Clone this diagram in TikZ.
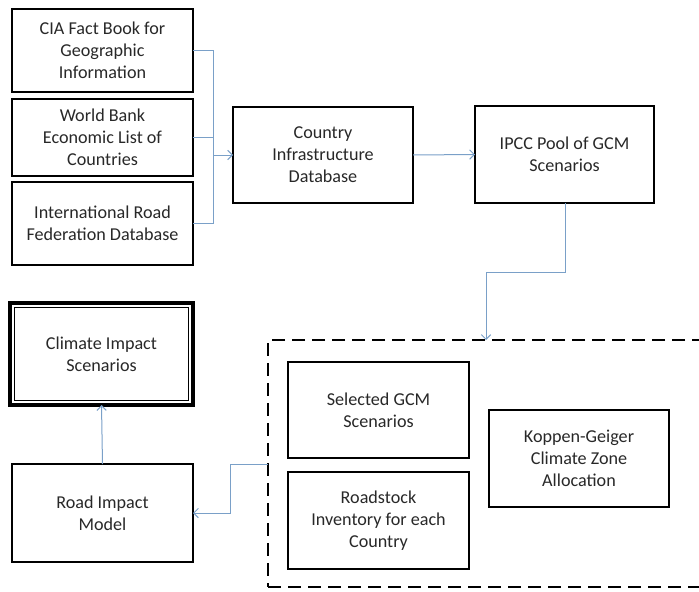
\documentclass[tikz,border=0pt]{standalone}
\usepackage{fontspec}
\setmainfont{Carlito}
\usetikzlibrary{arrows.meta}
\definecolor{conn}{RGB}{122,160,200}
\definecolor{txt}{RGB}{40,40,40}
\begin{document}
\begin{tikzpicture}[x=0.75pt,y=-0.75pt,
  bx/.style 2 args={draw=black,line width=1.6pt,fill=white,minimum width=#1*0.75pt,minimum height=#2*0.75pt,
    inner sep=0pt,outer sep=0pt,align=center,text=txt,font=\fontsize{13.6}{16.6}\selectfont},
  conline/.style={draw=conn,line width=0.75pt},
  arr/.style={conline,-{Straight Barb[length=3.5pt,width=7pt,line width=0.75pt]}}]
\useasboundingbox (0,0) rectangle (699,592);
\clip (0,0) rectangle (699,592);
% dashed container
\node[draw=black,line width=1.6pt,dash pattern=on 9.5pt off 5.5pt,minimum width=445*0.75pt,minimum height=247*0.75pt,inner sep=0pt,outer sep=0pt,anchor=north west] (dash) at (268,340) {};
% boxes
\node[bx={181}{83}] (cia) at (102.5,50.5) {CIA Fact Book for\\Geographic\\Information};
\node[bx={181}{77}] (wb) at (102.5,137.5) {World Bank\\Economic List of\\Countries};
\node[bx={181}{83}] (irf) at (102.5,223.5) {International Road\\Federation Database};
\node[bx={180}{96}] (cid) at (323,155) {Country\\Infrastructure\\Database};
\node[bx={179}{97}] (ipcc) at (564.5,154.5) {IPCC Pool of GCM\\Scenarios};
\node[bx={183}{102},line width=2.5pt] (clim) at (101.5,354) {Climate Impact\\Scenarios};
\draw[line width=0.8pt] ([shift={(3.4pt,-3.4pt)}]clim.north west) rectangle ([shift={(-3.4pt,3.4pt)}]clim.south east);
\node[bx={181}{98}] (road) at (102.5,513) {Road Impact\\Model};
\node[bx={181}{96}] (sel) at (378.5,410) {Selected GCM\\Scenarios};
\node[bx={181}{97}] (rs) at (378.5,520.5) {Roadstock\\Inventory for each\\Country};
\node[bx={180}{97}] (kop) at (579,458.5) {Koppen-Geiger\\Climate Zone\\Allocation};
% connectors
\coordinate (j) at (213,155);
\draw[conline] (cia.east) -| (j);
\draw[conline] (irf.east) -| (j);
\draw[conline] (wb.east) -- (wb.east -| j);
\draw[arr] (j) -- (cid.west);
\draw[arr] (cid.east) -- (ipcc.west);
\coordinate (b2) at (486,272);
\draw[arr] ([xshift=1.1pt]ipcc.south) |- (b2) -- (b2 |- dash.north);
\coordinate (c1) at (230,464);
\draw[arr] (dash.west |- c1) -- (c1) |- (road.east);
\draw[arr] (road.north) -- (clim.south);
\end{tikzpicture}
\end{document}
